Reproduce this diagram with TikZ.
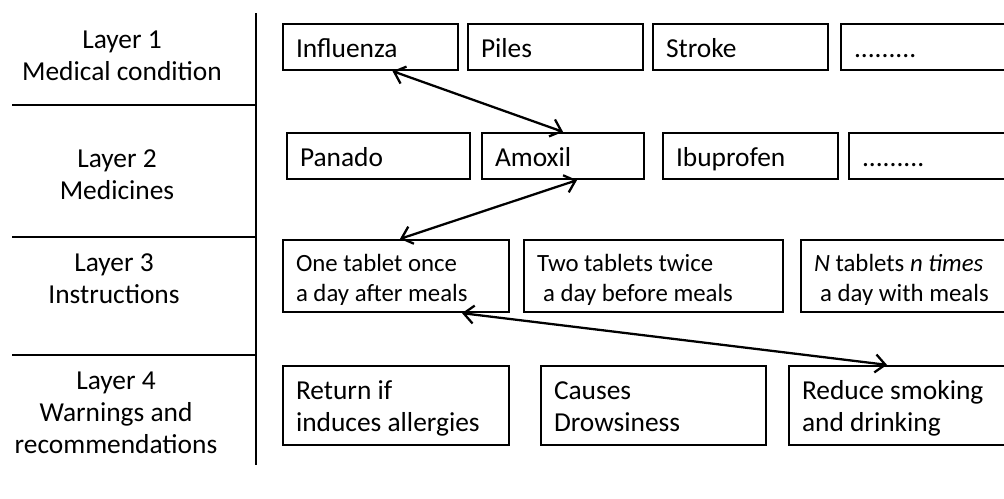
\documentclass[tikz,border=0pt]{standalone}
\usepackage{fontspec}
\setmainfont{Carlito}
\usepackage{tikz}
\usetikzlibrary{arrows.meta}

\tikzset{
  medbox/.style={draw, rectangle, text width=#1, inner xsep=6.5pt, inner ysep=2pt, align=flush left,
    minimum height=23pt, execute at begin node={\rule{0pt}{13pt}},
    execute at end node={\rule[-3pt]{0pt}{0pt}}},
  instr/.style={medbox=#1, minimum height=36pt, font=\fontsize{12.4}{15}\selectfont},
  warn/.style={medbox=#1, minimum height=39.5pt},
  layer/.style={align=center}
}

\begin{document}
\begin{tikzpicture}[x=0.5pt,y=-0.5pt,node distance=92.5pt,line width=0.4mm,
  >={Straight Barb[length=5pt,width=9pt]},font=\fontsize{13.7}{16}\selectfont]
  \useasboundingbox (0,0) rectangle (1004,498);

  % layer names
  \node[layer] (L1) at (122,56)  {Layer 1\\Medical condition};
  \node[layer] (L2) at (117,175) {Layer 2\\Medicines};
  \node[layer] (L3) at (114,279) {Layer 3\\Instructions};
  \node[layer] (L4) at (116,413) {Layer 4\\Warnings and\\recommendations};

  \draw (256,13) -- (256,465);
  \draw (12,105) -- (256,105);
  \draw (12,237) -- (256,237);
  \draw (12,355) -- (256,355);

  % layer 1
  \node[medbox=74.5pt] (Flu) at (370.5,47) {Influenza};
  \node[medbox=74.5pt] (Pil) [right of=Flu] {Piles};
  \node[medbox=74.5pt] (Str) [right of=Pil] {Stroke};
  \node[medbox=74.5pt] (Cd)  [right of=Str, node distance=94pt] {.........};

  % layer 2
  \node[medbox=78.5pt] (Pan) at (378.5,156) {Panado};
  \node[medbox=68pt]   (Amx) [right of=Pan, node distance=92.25pt] {Amoxil};
  \node[medbox=74.5pt] (Ibu) [right of=Amx, node distance=93.75pt] {Ibuprofen};
  \node[medbox=74.5pt] (Md)  [right of=Ibu, node distance=93pt] {.........};

  % layer 3
  \node[instr=100pt]   (I1) at (396,276) {One tablet once\\a day after meals};
  \node[instr=116.5pt] (I2) [right of=I1, node distance=128.75pt] {Two tablets twice\\\hspace*{0.25em}a day before meals};
  \node[instr=100pt]   (I3) [right of=I2, node distance=130.25pt] {\textit{N} tablets \textit{n times}\\\hspace*{0.25em}a day with meals};

  % layer 4
  \node[warn=100pt]  (W1) at (396,405.5) {Return if\\induces allergies};
  \node[warn=99.5pt] (W2) [right of=W1, node distance=128.75pt] {Causes\\Drowsiness};
  \node[warn=100pt]  (W3) [right of=W2, node distance=124.25pt] {Reduce smoking\\and drinking};

  \path[<->] ([xshift=11pt]Flu.south) edge (Amx.north)
	([xshift=7pt]Amx.south) edge ([xshift=2pt]I1.north)
	([xshift=33pt]I1.south) edge ([xshift=-7.5pt]W3.north);
\end{tikzpicture}
\end{document}
